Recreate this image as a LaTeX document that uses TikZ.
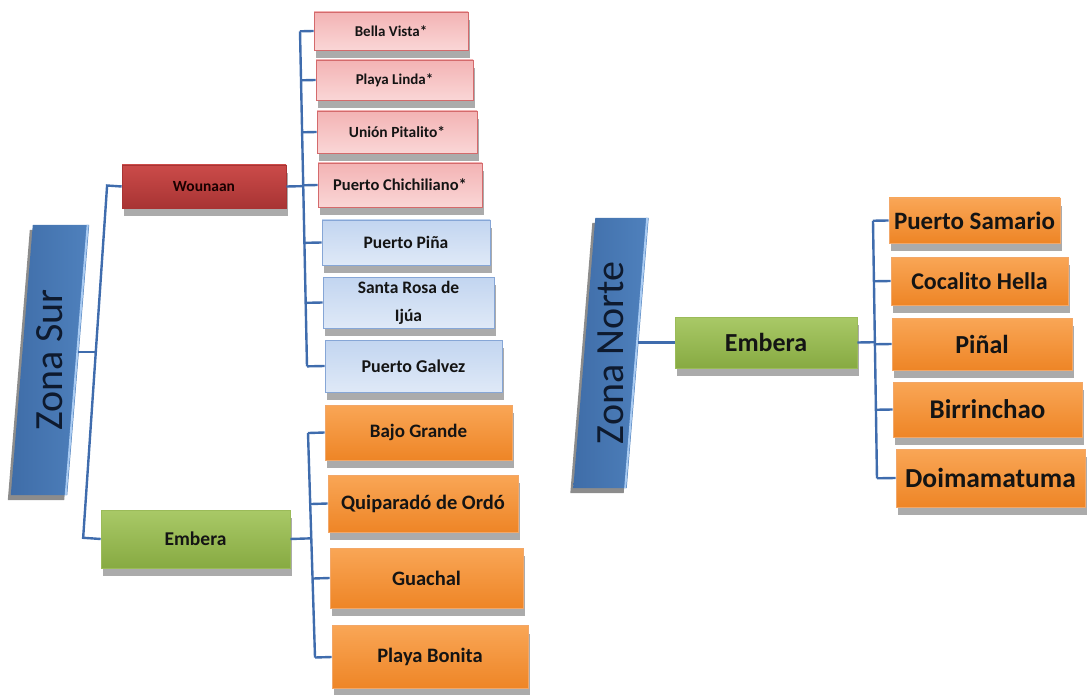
\documentclass[tikz,border=0pt]{standalone}
\usepackage{fontspec}
\usepackage{graphicx}
\setmainfont{Carlito}
\usetikzlibrary{calc,shadows,backgrounds}

\definecolor{connblue}{HTML}{3F6CAD}
\definecolor{txtdark}{HTML}{141414}
\definecolor{shadowgrey}{HTML}{ABABAB}
\definecolor{pinktop}{HTML}{F3B3B4}
\definecolor{pinkbot}{HTML}{FAD6D6}
\definecolor{pinkedge}{HTML}{D46A6C}
\definecolor{bluetop}{HTML}{C2D5F0}
\definecolor{bluebot}{HTML}{DFE9F7}
\definecolor{blueedge}{HTML}{86A6D6}
\definecolor{orangetop}{HTML}{F9A656}
\definecolor{orangebot}{HTML}{EE8526}
\definecolor{orangeedge}{HTML}{F2A768}
\definecolor{greentop}{HTML}{A9C967}
\definecolor{greenbot}{HTML}{87AA42}
\definecolor{greenedge}{HTML}{9BBB59}
\definecolor{redtop}{HTML}{CB4B49}
\definecolor{redbot}{HTML}{A83434}
\definecolor{zonefill}{HTML}{4F81BD}
\definecolor{zonedark}{HTML}{3F6DA8}
\definecolor{zonelight}{HTML}{A9CBF2}
\definecolor{zonetext}{HTML}{0E1A2E}

\tikzset{
  sz/.style 2 args={minimum width=#1pt, minimum height=#2pt},
  fs/.style={font=\bfseries\fontsize{#1pt}{#1pt}\selectfont},
  boxbase/.style={rectangle, inner sep=0pt, align=center, text=txtdark,
    line width=0.6pt,
    drop shadow={shadow xshift=2pt, shadow yshift=-8pt, fill=shadowgrey, opacity=1}},
  pinkbox/.style={boxbase, draw=pinkedge, top color=pinktop, bottom color=pinkbot},
  bluebox/.style={boxbase, draw=blueedge, top color=bluetop, bottom color=bluebot},
  orangebox/.style={boxbase, draw=orangeedge, top color=orangetop, bottom color=orangebot},
  greenbox/.style={boxbase, draw=greenedge, top color=greentop, bottom color=greenbot},
  redbox/.style={boxbase, draw=redbot, top color=redtop, bottom color=redbot, text=black!90!red},
  zone/.style={rectangle, inner sep=0pt, text=zonetext, font=\fontsize{40pt}{40pt}\selectfont},
  conn/.style={draw=connblue, line width=2.4pt},
}

% slanted slab behind a zone node, top shifted right and bottom shifted left
\newcommand{\zoneslab}[2]{%
  \fill[black!45] ([xshift=#2pt-3pt,yshift=-5pt]#1.north west) -- ([xshift=#2pt-3pt,yshift=-5pt]#1.north east)
     -- ([xshift=-#2pt-3pt,yshift=-5pt]#1.south east) -- ([xshift=-#2pt-3pt,yshift=-5pt]#1.south west) -- cycle;
  \shade[left color=zonedark, right color=zonefill]
     ([xshift=#2pt]#1.north west) -- ([xshift=#2pt]#1.north east)
     -- ([xshift=-#2pt]#1.south east) -- ([xshift=-#2pt]#1.south west) -- cycle;
  \draw[zonelight, line width=2pt]
     ([xshift=#2pt-1.5pt]#1.north east) -- ([xshift=-#2pt-1.5pt]#1.south east);
}

\begin{document}
\begin{tikzpicture}[x=1pt,y=-1pt]
\useasboundingbox (0,0) rectangle (1087,695);

% ---------- Zona Sur ----------
\node[zone, sz={56}{270}] (zs) at (50,360) {\rotatebox{90}{Zona Sur}};
\begin{scope}[on background layer]\zoneslab{zs}{11}\end{scope}

\node[redbox, sz={164}{43}, fs=15.5] (wou) at (204,186.5) {Wounaan};
\node[greenbox, sz={189}{58}, fs=19.5] (embS) at (195.5,539) {Embera};

\node[pinkbox, sz={154}{38}, fs=15] (bv) at (391,31) {Bella Vista*};
\node[pinkbox, sz={157}{40}, fs=15] (pl) at (394.5,80) {Playa Linda*};
\node[pinkbox, sz={160}{42}, fs=15.5] (up) at (397,132) {Unión Pitalito*};
\node[pinkbox, sz={164}{44}, fs=16.5] (pc) at (400,185) {Puerto Chichiliano*};
\node[bluebox, sz={168}{45}, fs=17.5] (pp) at (406,242.5) {Puerto Piña};
\node[bluebox, sz={171}{51}, font=\bfseries\fontsize{17.5pt}{28pt}\selectfont] (sr) at (408.5,302.5) {Santa Rosa de\\Ijúa};
\node[bluebox, sz={177}{52}, fs=18] (pg) at (413.5,366) {Puerto Galvez};

\node[orangebox, sz={187}{55}, fs=19] (bg) at (418.5,432.5) {Bajo Grande};
\node[orangebox, sz={190}{57}, fs=20.5] (qo) at (423,503.5) {Quiparadó de Ordó};
\node[orangebox, sz={193}{60}, fs=20.5] (gu) at (426.5,578) {Guachal};
\node[orangebox, sz={196}{63}, fs=20.5] (pb) at (430,657) {Playa Bonita};

% connectors, first level
\coordinate (sTop) at (107,187);
\coordinate (sBot) at (83,540);
\coordinate (sJ) at (95.5,352);
\draw[conn] (zs.east |- sJ) -- (sJ);
\draw[conn] (wou.west) -- ($(sTop)!(wou.west)!(sBot)$) -- ($(sTop)!(embS.west)!(sBot)$) -- (embS.west);

% connectors, Wounaan communities
\coordinate (wTop) at (300,31);
\coordinate (wBot) at (307,366);
\draw[conn] ($(wTop)!(bv.west)!(wBot)$) -- ($(wTop)!(pg.west)!(wBot)$);
\draw[conn] (wou.east) -- ($(wTop)!(wou.east)!(wBot)$);
\foreach \n in {bv,pl,up,pc,pp,sr,pg}
  \draw[conn] ($(wTop)!(\n.west)!(wBot)$) -- (\n.west);

% connectors, Embera communities (south)
\coordinate (eTop) at (308,433);
\coordinate (eBot) at (315,657);
\draw[conn] ($(eTop)!(bg.west)!(eBot)$) -- ($(eTop)!(pb.west)!(eBot)$);
\draw[conn] (embS.east) -- ($(eTop)!(embS.east)!(eBot)$);
\foreach \n in {bg,qo,gu,pb}
  \draw[conn] ($(eTop)!(\n.west)!(eBot)$) -- (\n.west);

% ---------- Zona Norte ----------
\node[zone, sz={53}{270}] (zn) at (611,353) {\rotatebox{90}{Zona Norte}};
\begin{scope}[on background layer]\zoneslab{zn}{11}\end{scope}

\node[greenbox, sz={182}{51}, fs=26] (embN) at (766,342.5) {Embera};

\node[orangebox, sz={171}{45}, fs=25] (ps) at (974.5,220.5) {Puerto Samario};
\node[orangebox, sz={177}{48}, fs=24] (ch) at (979.5,281) {Cocalito Hella};
\node[orangebox, sz={180}{52}, fs=26] (pi) at (982,344) {Piñal};
\node[orangebox, sz={189}{55}, fs=27] (bi) at (987.5,409.5) {Birrinchao};
\node[orangebox, sz={189}{58}, fs=27.5] (dm) at (990.5,478) {Doimamatuma};

\draw[conn] (zn.east |- embN.west) -- (embN.west);
\coordinate (nTop) at (873,221);
\coordinate (nBot) at (877,479);
\draw[conn] ($(nTop)!(ps.west)!(nBot)$) -- ($(nTop)!(dm.west)!(nBot)$);
\draw[conn] (embN.east) -- ($(nTop)!(embN.east)!(nBot)$);
\foreach \n in {ps,ch,pi,bi,dm}
  \draw[conn] ($(nTop)!(\n.west)!(nBot)$) -- (\n.west);
\end{tikzpicture}
\end{document}
